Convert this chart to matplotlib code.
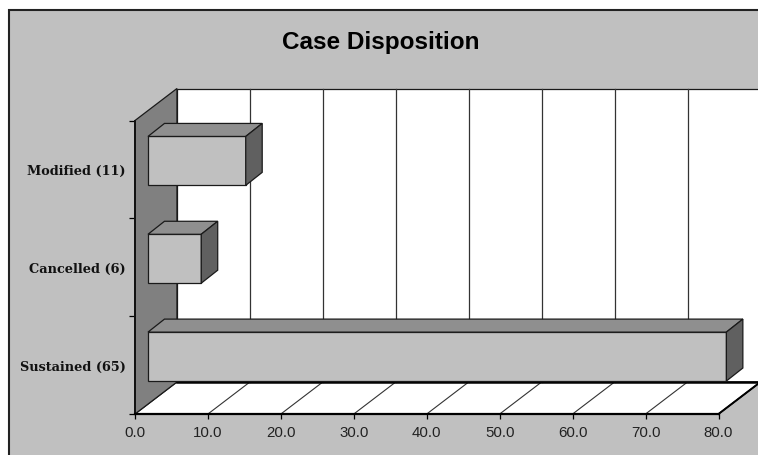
import matplotlib
matplotlib.use('Agg')
import matplotlib.pyplot as plt
from matplotlib.patches import Polygon, Rectangle

categories = ['Sustained (65)', 'Cancelled (6)', 'Modified (11)']
percent = [79.3, 7.3, 13.4]
x_ticks = [0, 10, 20, 30, 40, 50, 60, 70, 80]

W, H = 758, 456
GRAY = '#c0c0c0'

# depth of the fake 3d box, in data units
depth_x = 5.75
depth_y = 0.327
bar_left = 1.78
bar_shift = 0.087
bar_h = 0.5
bar_dx = 2.26
bar_dy = 0.133

fig = plt.figure(figsize=(W / 100, H / 100), dpi=100, facecolor='white')
fig.patches.append(Rectangle((8.5 / W, -0.1), 1, (H - 10.5) / H + 0.1, transform=fig.transFigure,
                             facecolor=GRAY, edgecolor='#222222', linewidth=1.5, zorder=-1))

ax = fig.add_axes([135 / W, (H - 415) / H, (718.5 - 135) / W, (415 - 121.5) / H])
ax.patch.set_visible(False)
ax.set_xlim(0, 80)
ax.set_ylim(-0.5, 2.5)


def face(points, color, z, lw=0.9):
    ax.add_patch(Polygon(points, closed=True, facecolor=color, edgecolor='#1a1a1a',
                         linewidth=lw, zorder=z, clip_on=False, joinstyle='miter'))


y0, y1 = -0.5, 2.5
# back wall runs past the right edge of the figure
face([(depth_x, y0 + depth_y), (86, y0 + depth_y), (86, y1 + depth_y), (depth_x, y1 + depth_y)], 'white', 1)
face([(0, y0), (80, y0), (80 + depth_x, y0 + depth_y), (depth_x, y0 + depth_y)], 'white', 1)
face([(0, y0), (depth_x, y0 + depth_y), (depth_x, y1 + depth_y), (0, y1)], '#808080', 1.2)

for t in x_ticks[1:]:
    ax.plot([t + depth_x, t + depth_x], [y0 + depth_y, y1 + depth_y], color='#333333', lw=0.9, zorder=1.5, clip_on=False)
    ax.plot([t, t + depth_x], [y0, y0 + depth_y], color='#333333', lw=0.8, zorder=1.5, clip_on=False)
ax.plot([depth_x, 80 + depth_x], [y0 + depth_y, y0 + depth_y], color='black', lw=1.8, zorder=1.6, clip_on=False)
ax.plot([80, 80 + depth_x], [y0, y0 + depth_y], color='black', lw=1.4, zorder=1.6, clip_on=False)

# bars: front face from barh, top and side faces on top of it
ypos = [i + bar_shift for i in range(len(categories))]
ax.barh(ypos, percent, height=bar_h, left=bar_left, color=GRAY, edgecolor='#1a1a1a', linewidth=0.9, zorder=3, clip_on=False)
for y, v in zip(ypos, percent):
    xa = bar_left
    xb = bar_left + v
    top = y + bar_h / 2
    bot = y - bar_h / 2
    face([(xa, top), (xb, top), (xb + bar_dx, top + bar_dy), (xa + bar_dx, top + bar_dy)], '#8f8f8f', 3)
    face([(xb, bot), (xb + bar_dx, bot + bar_dy), (xb + bar_dx, top + bar_dy), (xb, top)], '#606060', 3)

for s in ['top', 'right']:
    ax.spines[s].set_visible(False)
ax.spines['left'].set_bounds(y0, y1)
ax.spines['left'].set_linewidth(1.4)
ax.spines['bottom'].set_linewidth(1.6)
ax.spines['left'].set_color('#111111')
ax.spines['bottom'].set_color('black')

ax.set_xticks(x_ticks)
ax.set_xticklabels(['%.1f' % t for t in x_ticks], family='Liberation Sans', fontsize=10.8, color='#222222')
ax.tick_params(axis='x', length=3.5, width=0.9, pad=4.5)

ax.set_yticks([-0.5, 0.5, 1.5, 2.5])
ax.set_yticklabels([])
ax.set_yticks(range(len(categories)), minor=True)
ax.set_yticklabels(categories, minor=True, family='DejaVu Serif', fontweight='bold', fontsize=9.3, color='#111111')
ax.tick_params(axis='y', which='major', length=4.3, width=0.9)
ax.tick_params(axis='y', which='minor', length=0, pad=6.5)

fig.text(380.5 / W, (H - 42) / H, 'Case Disposition', family='Liberation Sans', fontweight='bold',
         fontsize=17.5, ha='center', va='center', color='black')

fig.savefig('out.png', dpi=100, facecolor=fig.get_facecolor())
